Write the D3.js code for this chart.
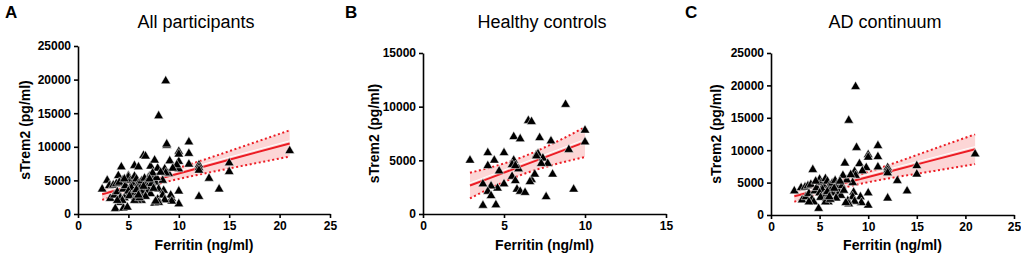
<!DOCTYPE html>
<html>
<head>
<meta charset="utf-8">
<script src="https://cdn.jsdelivr.net/npm/d3@7"></script>
<style>
  body { margin: 0; background: #fff; }
  svg { display: block; font-family: "Liberation Sans", Arial, sans-serif; }
</style>
</head>
<body>
<div id="chart"></div>
<script>
// values
const letters = ["A", "B", "C"];
const titles = ["All participants", "Healthy controls", "AD continuum"];
const xLabel = "Ferritin (ng/ml)";
const yLabel = "sTrem2 (pg/ml)";

// [ferritin, sTrem2]
const controls = [
  [8.8,10200],[6.5,8700],[6.7,8600],[10.0,7800],[5.6,7200],[6.0,7000],[7.2,7100],[7.9,6800],
  [10.0,6700],[9.0,6000],[7.0,5500],[7.1,5600],[7.4,5200],[7.7,4700],[7.3,4700],[8.0,3700],
  [6.7,3200],[6.9,3700],[5.6,5000],[5.5,4600],[5.9,4200],[5.5,3500],[5.7,3100],[5.8,2300],
  [6.0,2100],[6.3,2000],[5.0,2800],[4.6,2400],[4.2,2600],[4.0,2100],[4.2,1700],[3.7,2800],
  [3.7,800],[4.5,850],[7.6,1600],[9.3,2300],[2.9,5000],[4.0,5700],[5.0,5700],[4.4,5000],
  [4.0,4500],[4.7,4000],[6.6,3000],[7.0,5400],[5.7,4500]
];
const adContinuum = [
  [8.7,19800],[8.0,14600],[8.8,10400],[11.0,10700],[11.0,9000],[10.0,9300],[10.0,8900],[7.6,8000],
  [9.1,7900],[11.0,7400],[9.8,7300],[9.4,6800],[8.6,6700],[8.7,6100],[12.0,7300],[12.0,6900],
  [12.0,6500],[15.0,7600],[15.0,6300],[21.0,9400],[13.0,5300],[14.0,3700],[12.0,2600],[10.0,3400],
  [10.0,1500],[9.2,2800],[9.3,1900],[8.5,3500],[8.4,2800],[8.6,2100],[7.9,2200],[8.0,1700],
  [7.7,1900],[8.4,5000],[7.8,5400],[7.4,6100],[8.2,6200],
  [4.3,7000],[2.4,3700],[3.1,4200],[3.5,4300],[3.8,4500],[4.1,4700],[3.2,2300],[3.6,2800],
  [3.9,3300],[4.2,2400],[4.4,2000],[3.9,2000],[4.9,1000],[4.5,3700],[4.7,4200],[5.0,5500],
  [5.2,5000],[5.4,4500],[5.6,5600],[5.8,5200],[5.3,3900],[5.0,3400],[5.5,3000],[5.1,2700],
  [5.7,2500],[5.9,2000],[5.6,2000],[6.0,4500],[6.2,3900],[6.4,3400],[6.3,4900],[6.6,5300],
  [6.8,4700],[6.9,4000],[7.0,3500],[7.2,3000],[6.7,2600],[6.1,2400],[7.3,4500],[7.5,3800],
  [7.1,5200],[6.5,4100],[4.6,5200],[5.8,3600],[6.0,2800]
];
const allParticipants = controls.concat(adContinuum);

// regression line and 95% band, read at a few x positions
const fitAllX  = [2.4, 5, 7, 10, 13, 16, 21];
const fitAllY  = [2950, 4006, 4818, 6036, 7254, 8472, 10500];
const bandAllHi = [3800, 4730, 5510, 6870, 8330, 9870, 12450];
const bandAllLo = [2100, 3290, 4130, 5210, 6170, 7070, 8550];

const fitHcX  = [2.9, 4, 6, 8, 10];
const fitHcY  = [2650, 3277, 4417, 5557, 6700];
const bandHcHi = [3850, 4270, 5230, 6550, 8100];
const bandHcLo = [1450, 2290, 3610, 4570, 5300];

const fitAdX  = [2.4, 5, 7.5, 10, 13, 16, 21];
const fitAdY  = [2900, 3910, 4890, 5860, 7030, 8200, 10150];
const bandAdHi = [3750, 4610, 5540, 6660, 8180, 9800, 12450];
const bandAdLo = [2050, 3210, 4240, 5060, 5880, 6600, 7850];

const ticks25 = [0, 5, 10, 15, 20, 25];
const ticks15 = [0, 5, 10, 15];
const yTicks25k = [0, 5000, 10000, 15000, 20000, 25000];
const yTicks15k = [0, 5000, 10000, 15000];

const width = 1021, height = 256;
const red = "#ec1c24", pink = "#fcd6d6";

const svg = d3.select("#chart").append("svg")
    .attr("width", width)
    .attr("height", height);

const panels = [
  {pts: allParticipants, fx: fitAllX, fy: fitAllY, hi: bandAllHi, lo: bandAllLo,
   xt: ticks25, yt: yTicks25k, left: 78, right: 330, top: 46, bottom: 214, ox: 0, tx: 196, ylab: 53},
  {pts: controls, fx: fitHcX, fy: fitHcY, hi: bandHcHi, lo: bandHcLo,
   xt: ticks15, yt: yTicks15k, left: 423, right: 666, top: 53, bottom: 214, ox: 340, tx: 542, ylab: 49},
  {pts: adContinuum, fx: fitAdX, fy: fitAdY, hi: bandAdHi, lo: bandAdLo,
   xt: ticks25, yt: yTicks25k, left: 771, right: 1014, top: 53, bottom: 215, ox: 680, tx: 885, ylab: 55}
];

panels.forEach((p, i) => {
  let x = d3.scaleLinear().domain(d3.extent(p.xt)).range([p.left, p.right]);
  let y = d3.scaleLinear().domain(d3.extent(p.yt)).range([p.bottom, p.top]);
  let g = svg.append("g");

  g.append("text")
      .attr("x", p.ox + 5).attr("y", 18)
      .attr("font-size", 17).attr("font-weight", "bold")
      .text(letters[i]);

  g.append("text")
      .attr("x", p.tx).attr("y", 28)
      .attr("text-anchor", "middle")
      .attr("font-size", 18)
      .text(titles[i]);

  // band
  let band = p.fx.map((v, j) => ({x: v, y: p.fy[j], hi: p.hi[j], lo: p.lo[j]}));
  g.append("path")
      .datum(band)
      .attr("fill", pink)
      .attr("d", d3.area().curve(d3.curveMonotoneX)
        .x(d => x(d.x)).y0(d => y(d.lo)).y1(d => y(d.hi)));

  ["hi", "lo"].forEach(k => {
    g.append("path")
        .datum(band)
        .attr("fill", "none")
        .attr("stroke", red)
        .attr("stroke-width", 2)
        .attr("stroke-dasharray", "2,2.6")
        .attr("d", d3.line().curve(d3.curveMonotoneX).x(d => x(d.x)).y(d => y(d[k])));
  });

  g.append("path")
      .datum(band)
      .attr("fill", "none")
      .attr("stroke", "#fff")
      .attr("stroke-width", 1)
      .attr("d", d3.line().x(d => x(d.x)).y(d => y(d.y) - 2.6));

  g.append("path")
      .datum(band)
      .attr("fill", "none")
      .attr("stroke", red)
      .attr("stroke-width", 2)
      .attr("d", d3.line().x(d => x(d.x)).y(d => y(d.y)));

  // points
  g.append("g")
    .selectAll("path")
    .data(p.pts)
    .join("path")
      .attr("transform", d => `translate(${x(d[0])},${y(d[1])})`)
      .attr("d", d3.symbol(d3.symbolTriangle, 40))
      .attr("fill", "#000")
      .attr("stroke", "#fff")
      .attr("stroke-width", 0.5);

  // axes
  let xAxis = g.append("g")
      .attr("transform", `translate(0,${p.bottom})`)
      .call(d3.axisBottom(x).tickValues(p.xt).tickSize(4).tickSizeOuter(0).tickPadding(3));
  let yAxis = g.append("g")
      .attr("transform", `translate(${p.left},0)`)
      .call(d3.axisLeft(y).tickValues(p.yt).tickSize(4).tickSizeOuter(0).tickPadding(3).tickFormat(d3.format("d")));
  [xAxis, yAxis].forEach(a => {
    a.attr("font-family", null).attr("font-size", 12).attr("font-weight", "bold");
    a.selectAll("path, line").attr("stroke", "#000").attr("stroke-width", 1.6);
    a.selectAll("text").attr("fill", "#000");
  });

  g.append("text")
      .attr("x", (p.left + p.right) / 2).attr("y", 250)
      .attr("text-anchor", "middle")
      .attr("font-size", 14).attr("font-weight", "bold")
      .text(xLabel);

  g.append("text")
      .attr("transform", `translate(${p.left - p.ylab},${(p.top + p.bottom) / 2}) rotate(-90)`)
      .attr("text-anchor", "middle")
      .attr("dy", "0.35em")
      .attr("font-size", 14).attr("font-weight", "bold")
      .text(yLabel);
});
</script>
</body>
</html>
